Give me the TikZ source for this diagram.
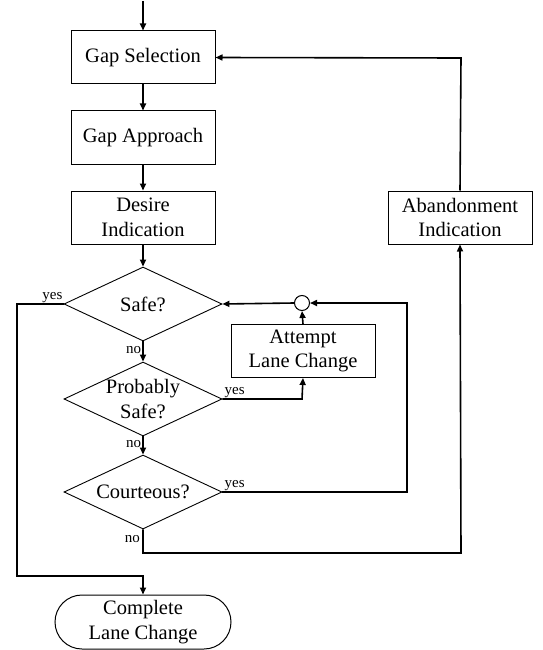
\documentclass[tikz,border=0pt]{standalone}
\usepackage{fontspec}
\setmainfont{Liberation Serif}
\usetikzlibrary{shapes.geometric,shapes.misc,arrows.meta}
\begin{document}
\begin{tikzpicture}[x=1pt,y=-1pt,
  every node/.style={font=\fontsize{20.5}{24.5}\selectfont},
  box/.style={draw,line width=1pt,minimum width=144pt,minimum height=53pt,inner sep=0pt,align=center},
  dec/.style={draw,diamond,line width=0.9pt,minimum width=158pt,minimum height=74pt,inner sep=0pt},
  term/.style={draw,rounded rectangle,line width=1pt,minimum width=176pt,minimum height=54pt,inner sep=0pt,align=center},
  conn/.style={line width=1.6pt,-{Triangle[length=7pt,width=6pt]}},
  lab/.style={font=\fontsize{15}{17}\selectfont,inner sep=1pt}]
\useasboundingbox (0,0) rectangle (542,650);

\node[box] (gs) at (143,57.5) {Gap Selection};
\node[box] (ga) at (143,137.5) {Gap Approach};
\node[box] (di) at (143,217.5) {Desire\\Indication};
\node[box] (ab) at (460,217.5) {Abandonment\\Indication};
\node[dec,label={center:Safe?}] (safe) at (143,304) {};
\node[dec,label={[align=center,font=\fontsize{20.5}{24.5}\selectfont]center:Probably\\Safe?}] (ps) at (143,399) {};
\node[dec,label={center:Courteous?}] (co) at (143,492) {};
\node[box] (at) at (303,351) {Attempt\\Lane Change};
\node[draw,circle,line width=1pt,minimum size=15pt,inner sep=0pt] (jn) at (302,303) {};
\node[term] (cl) at (143,622) {Complete\\Lane Change};

\coordinate (top) at (143,1);
\coordinate (y1) at (17,304);
\coordinate (y2) at (17,576);
\coordinate (y3) at (143,576);
\coordinate (p1) at (302,399);
\coordinate (c1) at (407,492);
\coordinate (c2) at (407,303);
\coordinate (n1) at (143,553);
\coordinate (n2) at (461,553);
\coordinate (a1) at (461,58);

\draw[conn] (top) -- (gs);
\draw[conn] (gs) -- (ga);
\draw[conn] (ga) -- (di);
\draw[conn] (di) -- (safe.north);
\draw[conn] (safe.south) -- node[lab,left,pos=0.45]{no} (ps.north);
\draw[conn] (ps.south) -- node[lab,left,pos=0.4]{no} (co.north);
\draw[conn] (safe.west) -- (y1) -- (y2) -- (y3) -- (cl.north);
\node[lab,above left] at (safe.west) {yes};
\draw[conn] (ps.east) -- (p1) -- (at.south);
\node[lab,above right,xshift=1pt] at (ps.east) {yes};
\draw[conn] (at.north) -- (jn.south);
\draw[conn] (jn.west) -- (safe.east);
\draw[conn] (co.east) -- (c1) -- (c2) -- (jn.east);
\node[lab,above right,xshift=1pt] at (co.east) {yes};
\draw[conn] (co.south) -- (n1) -- (n2) -- (ab.south);
\node[lab,left,xshift=-2pt] at ([yshift=-10pt]co.south) {no};
\draw[conn] (ab.north) -- (a1) -- (gs.east);
\end{tikzpicture}
\end{document}
